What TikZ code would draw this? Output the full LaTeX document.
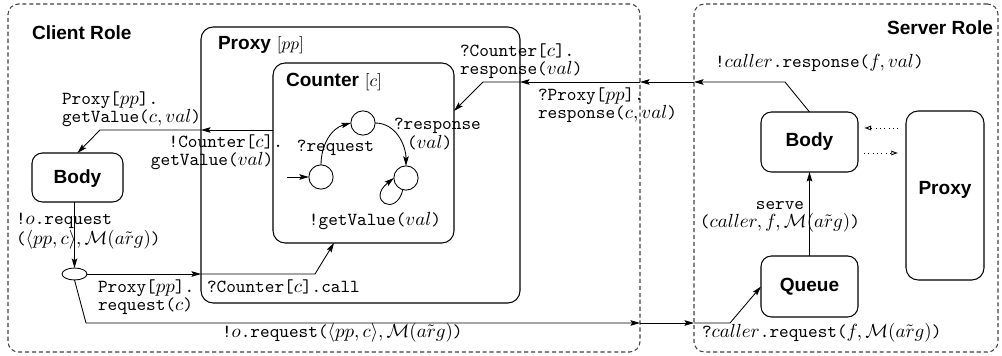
\documentclass[tikz,border=0pt]{standalone}
\usepackage{fontspec}
\newfontfamily\hv{Liberation Sans}
\usetikzlibrary{arrows.meta,shapes.geometric,fit}
\begin{document}
\begin{tikzpicture}[x=0.577pt,y=-0.577pt,
  every node/.style={inner sep=0pt, outer sep=0pt},
  role/.style={draw=black!75, dash pattern=on 2.4pt off 1.6pt, rounded corners=6pt, line width=0.6pt, fit={#1}},
  box/.style={draw, rounded corners=#1, line width=0.6pt},
  ttl/.style={font=\hv\bfseries\fontsize{11}{13}\selectfont},
  lbl/.style={font=\ttfamily\fontsize{10.6}{10.5}\selectfont, align=left},
  arr/.style={-{Stealth[length=5.5pt,width=3.2pt,inset=1pt]}, line width=0.5pt},
  darr/.style={dotted, line width=0.5pt, -{Latex[open,length=4pt,width=3pt]}},
  state/.style={circle, draw, line width=0.5pt, minimum size=14pt}
]
\useasboundingbox (0,0) rectangle (1002,356);
% role boxes
\node[role={(8,4) (640,352)}] (client) {};
\node[role={(694,4) (998,352)}] (server) {};
\node[ttl, anchor=west] (clientt) at (32,33) {Client Role};
\node[ttl, anchor=east] (servert) at (993,28) {Server Role};
% client boxes
\node[box=7pt, fit={(201,27) (520,303)}] (proxy) {};
\node[anchor=west] (proxyt) at (218,45) {{\hv\bfseries\fontsize{11}{13}\selectfont Proxy} $[pp]$};
\node[box=7pt, fit={(273,63) (454,243)}] (counter) {};
\node[anchor=west] (countert) at (286,82) {{\hv\bfseries\fontsize{11}{13}\selectfont Counter} $[c]$};
\node[box=6pt, fit={(32,153) (123,202)}] (cbody) {};
\node[ttl] (cbodyt) at (77.5,179) {Body};
\node[ellipse, draw, line width=0.5pt, minimum width=14.4pt, minimum height=6.9pt] (ell) at (74.5,274) {};
% states
\node[state] (s1) at (321,177) {};
\node[state] (s2) at (363,123) {};
\node[state] (s3) at (406,178) {};
\coordinate (init) at (287,177);
\draw[arr] (init) -- (s1.west);
\draw[arr] (s1.north) to[out=90,in=195] (s2.west);
\draw[arr] (s2.east) to[out=0,in=90] (s3.north);
\draw[arr] (s3.-105) .. controls (396,218) and (366,200) .. (s3.west);
\node[lbl] (lreq) at (335.5,148) {?request};
\node[lbl, anchor=west] (lresp) at (394,134) {?response\\\hspace*{7.5pt}($val$)};
\node[lbl] (lget) at (375,221) {!getValue($val$)};
% server boxes
\node[box=6pt, fit={(761,112) (858,172)}] (sbody) {};
\node[ttl] (sbodyt) at (809.5,142) {Body};
\node[box=6pt, fit={(761,256) (858,317)}] (queue) {};
\node[ttl] (queuet) at (809.5,286.5) {Queue};
\node[box=7pt, fit={(906,111) (984,280)}] (sproxy) {};
\node[ttl] (sproxyt) at (945,190) {Proxy};
% coordinates
\coordinate (g1) at (0,130);
\coordinate (g2) at (100,130);
\coordinate (c1) at (315,274);
\coordinate (c2) at (334,243);
\coordinate (q1) at (86,323);
\coordinate (q2) at (730,323);
\coordinate (r1) at (785,82);
\coordinate (r2) at (483,82);
\coordinate (r3) at (0,111);
\coordinate (d1) at (0,128);
\coordinate (d2) at (0,153);
% connectors
\draw[arr] (counter.west |- g1) -- (proxy.west |- g1);
\draw[arr] (proxy.west |- g1) -- (g2) -- (cbody.north);
\draw[arr] (cbody.south -| ell.north) -- (ell.north);
\draw[arr] (ell.east) -- (proxy.west |- ell.east);
\draw[arr] (proxy.west |- ell.east) -- (c1) -- (c2);
\draw[arr] (ell.south) -- (q1) -- (client.east |- q1);
\draw[arr] (client.east |- q1) -- (server.west |- q1);
\draw[arr] (server.west |- q1) -- (q2) -- (queue.west);
\draw[arr] (queue.north) -- (sbody.south);
\draw[arr] (sbody.north) -- (r1) -- (server.west |- r1);
\draw[arr] (server.west |- r1) -- (client.east |- r1);
\draw[arr] (client.east |- r1) -- (proxy.east |- r1);
\draw[arr] (proxy.east |- r1) -- (r2) -- (counter.east |- r3);
\draw[darr, shorten <=4.5pt, shorten >=3.5pt] (sproxy.west |- d1) -- (sbody.east |- d1);
\draw[darr, shorten <=3.5pt, shorten >=4.5pt] (sbody.east |- d2) -- (sproxy.west |- d2);
% labels
\node[lbl, anchor=west] (l1) at (62,109) {Proxy[$pp$].\\getValue($c,val$)};
\node[lbl, align=right, anchor=east] (l2) at (283,152.5) {!Counter[$c$].\\getValue($val$)\phantom{.}};
\node[lbl, anchor=west] (l3) at (16,231) {!$o$.request\\($\langle pp,c\rangle,\mathcal{M}(\tilde{arg})$)};
\node[lbl, anchor=west] (l4) at (98,297) {Proxy[$pp$].\\request($c$)};
\node[lbl, anchor=west] (l5) at (207,287) {?Counter[$c$].call};
\node[lbl, anchor=west] (l6) at (222,333) {!$o$.request($\langle pp,c\rangle,\mathcal{M}(\tilde{arg})$)};
\node[lbl, anchor=west] (l7) at (702,333) {?$caller$.request($f,\mathcal{M}(\tilde{arg})$)};
\node[lbl, align=center] (l8) at (780,217) {serve\\($caller,f,\mathcal{M}(\tilde{arg})$)};
\node[lbl, anchor=west] (l9) at (715,63) {!$caller$.response($f,val$)};
\node[lbl, anchor=west] (l10) at (538,105) {?Proxy[$pp$].\\response($c,val$)};
\node[lbl, anchor=west] (l11) at (460,61) {?Counter[$c$].\\response($val$)};
\end{tikzpicture}
\end{document}
